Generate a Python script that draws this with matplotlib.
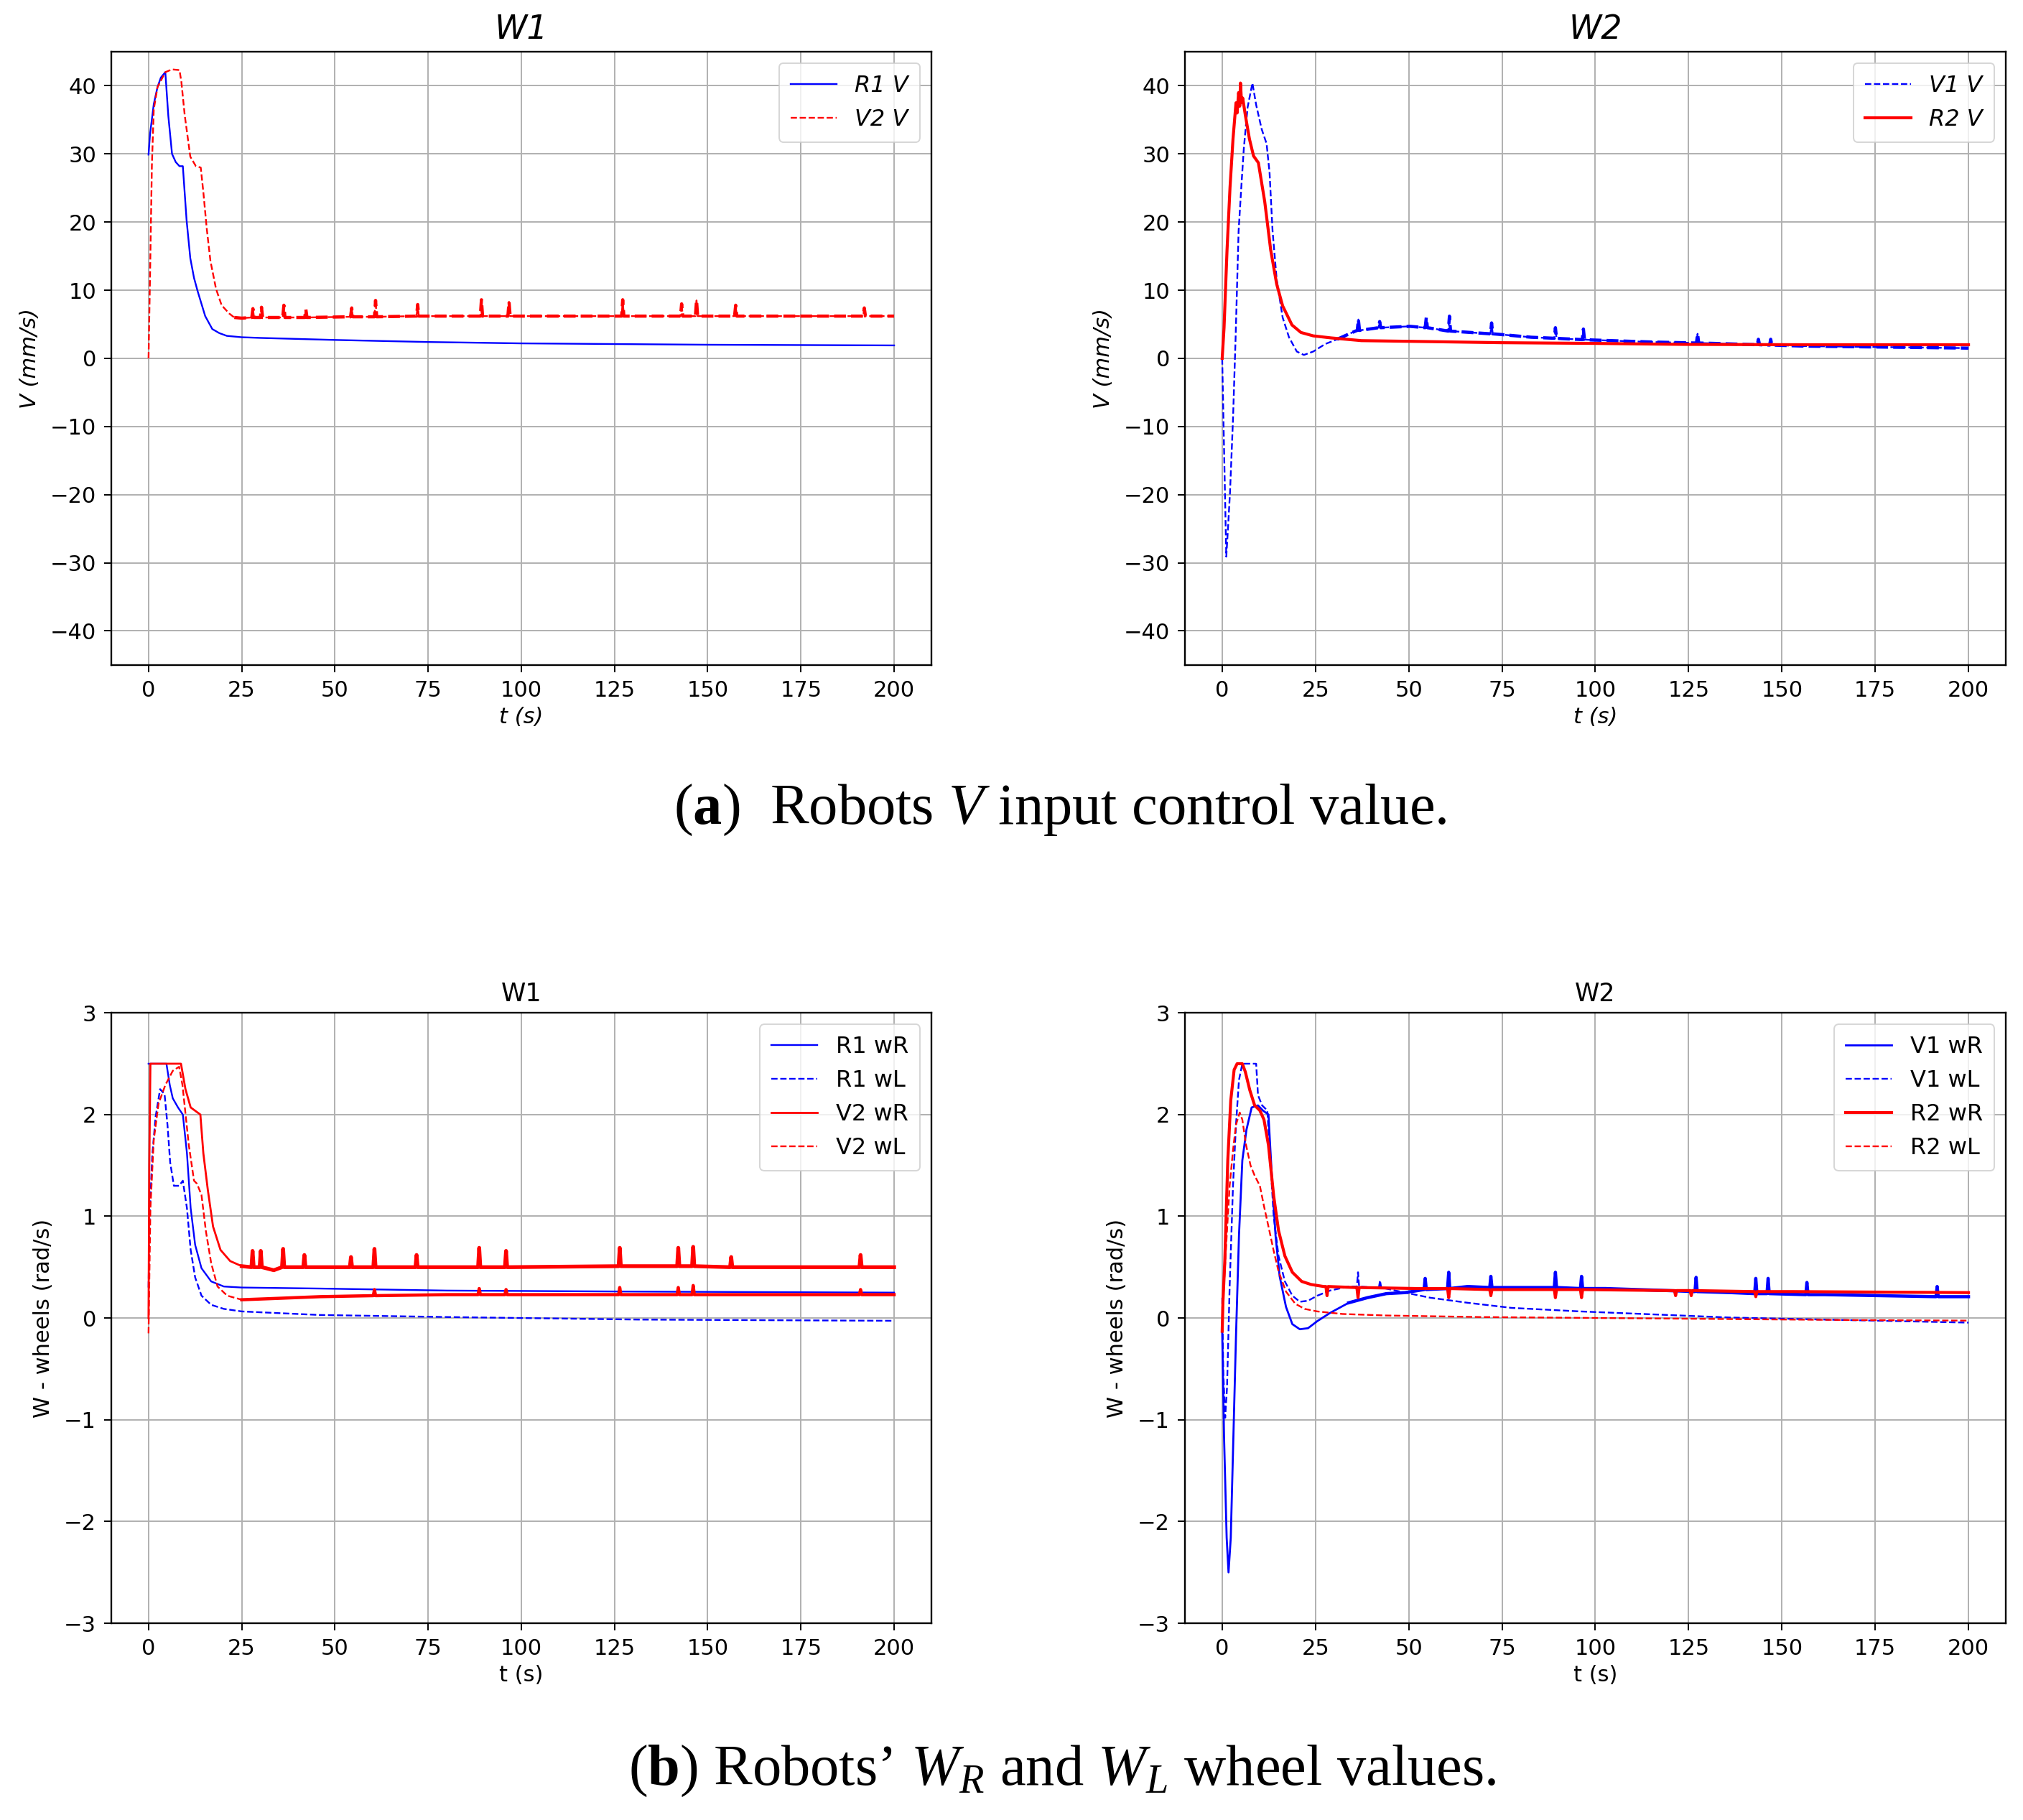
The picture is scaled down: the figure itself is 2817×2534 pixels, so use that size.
import matplotlib
matplotlib.use("Agg")
import matplotlib.pyplot as plt
import numpy as np

# ---- data ----
# (a) W1: V input
r1v_t = [0, 0.4, 1.4, 2.4, 3.3, 4.5, 5.3, 6.3, 7.3, 8.3, 9.2, 10.2, 11.2, 12.2, 13.2, 15.2,
         17.1, 19, 21, 25, 30, 50, 75, 100, 125, 150, 175, 200]
r1v_v = [29.9, 32.9, 37.3, 39.8, 41.2, 42.0, 35.6, 30.0, 28.8, 28.2, 28.2, 20.3, 14.7, 11.8, 9.8, 6.2,
         4.3, 3.7, 3.3, 3.1, 3.0, 2.7, 2.4, 2.2, 2.1, 2.0, 1.95, 1.9]

v2v_t = [0, 0.4, 0.9, 1.4, 2.4, 4.5, 6.3, 8.3, 8.8, 9.7, 11.2, 12.7, 14.0, 14.7, 15.6, 16.6, 18.1,
         19.6, 21.6, 23, 25, 27.7, 28, 28.3, 30, 30.3, 30.6, 36, 36.3, 36.6, 41.9, 42.2, 42.5,
         54.2, 54.5, 54.8, 60.6, 60.9, 61.2, 71.9, 72.2, 72.5, 89, 89.3, 89.6, 96.4, 96.7, 97,
         126.9, 127.2, 127.5, 142.7, 143, 143.3, 146.7, 147, 147.3, 157.2, 157.5, 157.8,
         191.7, 192, 192.3, 200]
v2v_v = [0, 12, 28.4, 36.5, 39.8, 42.0, 42.4, 42.3, 40.6, 35.7, 29.6, 28.2, 28.0, 24.4, 19.1, 14.3, 10.2,
         7.8, 6.6, 6.0, 5.9, 6.0, 7.3, 6.0, 6.0, 7.5, 6.0, 6.0, 7.8, 6.0, 6.0, 7.2, 6.0,
         6.1, 7.4, 6.1, 6.1, 8.5, 6.1, 6.2, 7.9, 6.2, 6.2, 8.6, 6.2, 6.2, 8.3, 6.2,
         6.2, 8.6, 6.2, 6.2, 8.0, 6.2, 6.2, 8.5, 6.2, 6.2, 7.8, 6.2,
         6.2, 7.4, 6.2, 6.2]

# (a) W2: V input
v1v_t = [0, 1.1, 1.6, 2.1, 2.9, 3.6, 4.4, 5.2, 5.8, 6.8, 8.1, 9.1, 10.6, 11.9, 12.7, 13.5, 14.6,
         16.2, 17.9, 20, 21.9, 24.4, 27.6, 30.8, 35.7, 36.2, 36.5, 36.8, 41.9, 42.2, 42.5, 50.3,
         54.4, 54.7, 55.0, 58.4, 60.6, 60.9, 61.2, 66.6, 71.9, 72.2, 72.5, 74.7, 82.8, 89.0, 89.3,
         89.6, 90.9, 96.5, 96.8, 97.1, 99, 115, 127.1, 127.4, 127.7, 131.5, 143.4, 143.7, 144.0,
         146.7, 147, 147.3, 155.8, 200]
v1v_v = [0, -29.1, -24.5, -19.6, -8.9, 3.1, 18.7, 25.8, 30.8, 36.8, 40.4, 37.2, 33.6, 31.5, 27.2, 18.7, 11.6,
         6.0, 3.1, 1.0, 0.5, 1.0, 2.1, 2.8, 4.0, 4.1, 5.7, 4.1, 4.5, 5.4, 4.5, 4.7,
         4.5, 6.0, 4.5, 4.2, 4.0, 6.2, 4.0, 3.8, 3.6, 5.2, 3.6, 3.5, 3.1, 2.95, 4.5,
         2.95, 2.9, 2.75, 4.3, 2.75, 2.7, 2.4, 2.25, 3.6, 2.25, 2.2, 2.0, 2.8, 2.0,
         1.95, 2.8, 1.95, 1.8, 1.5]

r2v_t = [0, 0.5, 1.3, 2.1, 2.9, 3.7, 4.0, 4.4, 4.7, 4.9, 5.2, 5.5, 6.2, 7.3, 8.4, 9.7, 11.4, 13,
         14.6, 16.2, 18.7, 21.1, 24.4, 29.2, 37.3, 50.3, 74.7, 99, 123.4, 155.8, 200]
r2v_v = [0, 4.5, 15.9, 25.1, 32.2, 37.5, 36.0, 39.0, 37.0, 40.4, 37.5, 38.2, 35.7, 32.2, 29.7, 28.7, 23.0, 15.9,
         10.9, 7.7, 4.9, 3.8, 3.3, 3.0, 2.6, 2.5, 2.3, 2.2, 2.05, 2.0, 2.0]

# (b) W1: wheel speeds
r1wr_t = [0, 4.8, 5.7, 6.5, 7.9, 9.2, 10.3, 11.3, 12.5, 14.2, 16.8, 20.2, 25, 46, 80, 131.5, 200]
r1wr_w = [2.5, 2.5, 2.29, 2.16, 2.07, 2.0, 1.62, 1.08, 0.72, 0.49, 0.36, 0.31, 0.30, 0.29, 0.27, 0.26, 0.25]

r1wl_t = [0, 0.3, 1.0, 1.9, 3.1, 4.3, 5.1, 5.8, 6.8, 8.2, 9.2, 10.3, 11.3, 12.5, 14.2, 16.8, 20.2,
          25, 46, 80, 131.5, 200]
r1wl_w = [0.3, 1.0, 1.6, 1.98, 2.25, 2.2, 1.89, 1.53, 1.3, 1.3, 1.35, 1.08, 0.67, 0.4, 0.22, 0.13, 0.09,
          0.065, 0.03, 0.01, -0.015, -0.027]

v2wr_t = [0, 0.2, 0.5, 8.7, 9.9, 11.3, 13.9, 14.7, 15.9, 17.3, 19.3, 21.9, 25, 27.6, 27.9, 28.2,
          29.8, 30.1, 30.4, 33.6, 35.8, 36.1, 36.4, 41.5, 41.8, 42.1, 54, 54.3, 54.6, 60.3, 60.6, 60.9,
          71.6, 71.9, 72.2, 88.4, 88.7, 89, 95.6, 95.9, 96.2, 126.1, 126.4, 126.7, 141.8, 142.1, 142.4,
          145.8, 146.1, 146.4, 156, 156.3, 156.6, 190.7, 191, 191.3, 200]
v2wr_w = [0, 1.5, 2.5, 2.5, 2.25, 2.07, 2.0, 1.62, 1.26, 0.9, 0.67, 0.56, 0.51, 0.5, 0.66, 0.5,
          0.5, 0.66, 0.5, 0.47, 0.5, 0.68, 0.5, 0.5, 0.62, 0.5, 0.5, 0.6, 0.5, 0.5, 0.68, 0.5,
          0.5, 0.62, 0.5, 0.5, 0.69, 0.5, 0.5, 0.66, 0.5, 0.51, 0.69, 0.51, 0.51, 0.69, 0.51,
          0.51, 0.70, 0.51, 0.5, 0.6, 0.5, 0.5, 0.62, 0.5, 0.5]

v2wl_t = [0, 0.5, 1.4, 2.7, 4.5, 6.5, 8.2, 9.1, 10.8, 12.2, 13, 14.2, 15.4, 16.8, 18.5, 21.1, 25,
          32.2, 46, 60.3, 60.6, 60.9, 80, 88.4, 88.7, 89, 95.6, 95.9, 96.2, 126.1, 126.4, 126.7,
          131.5, 141.8, 142.1, 142.4, 145.8, 146.1, 146.4, 190.7, 191, 191.3, 200]
v2wl_w = [-0.15, 1.08, 1.75, 2.11, 2.29, 2.43, 2.47, 2.29, 1.7, 1.35, 1.32, 1.21, 0.85, 0.54, 0.31, 0.22, 0.18,
          0.19, 0.21, 0.22, 0.28, 0.22, 0.23, 0.23, 0.29, 0.23, 0.23, 0.28, 0.23, 0.23, 0.30, 0.23,
          0.23, 0.23, 0.30, 0.23, 0.23, 0.32, 0.23, 0.23, 0.28, 0.23, 0.23]

# (b) W2: wheel speeds
v1wr_t = [0, 0.5, 1.2, 1.7, 2.3, 3.0, 3.7, 4.5, 5.4, 6.5, 7.9, 9.6, 10.9, 12.4, 13.3, 14.3, 15.4,
          17.1, 18.8, 20.8, 23, 25.5, 28.9, 33.9, 38.9, 44, 49, 54.1, 54.4, 54.7, 60.4, 60.7, 61,
          65.8, 71.7, 72, 72.3, 85.9, 89, 89.3, 89.6, 96, 96.3, 96.6, 102.7, 119.5, 126.7, 127, 127.3,
          136.2, 142.7, 143, 143.3, 146, 146.3, 146.6, 156.4, 156.7, 157, 161.4, 191.3, 191.6, 191.9, 200]
v1wr_w = [-0.13, -1.17, -2.16, -2.5, -2.16, -1.17, -0.18, 0.81, 1.55, 1.85, 2.07, 2.09, 2.04, 2.0, 1.4, 0.81, 0.41,
          0.11, -0.06, -0.11, -0.1, -0.03, 0.05, 0.15, 0.2, 0.24, 0.25, 0.28, 0.39, 0.28, 0.29, 0.45, 0.29,
          0.31, 0.3, 0.41, 0.3, 0.3, 0.3, 0.45, 0.3, 0.29, 0.41, 0.29, 0.29, 0.27, 0.26, 0.4, 0.26,
          0.25, 0.24, 0.39, 0.24, 0.24, 0.39, 0.24, 0.23, 0.35, 0.23, 0.23, 0.21, 0.31, 0.21, 0.21]

v1wl_t = [0, 0.3, 0.8, 1.3, 2.0, 2.9, 3.7, 4.5, 5.4, 9.1, 9.6, 10.7, 12.1, 12.9, 13.8, 15.1, 16.8,
          18.8, 20.8, 23, 25.5, 28.9, 33.9, 36.1, 36.4, 36.7, 40.6, 42, 42.3, 42.6, 49, 55.7, 65.8,
          77.5, 96, 119.5, 136.2, 161.4, 200]
v1wl_w = [0.2, -0.53, -0.98, -0.68, 0.31, 1.3, 1.9, 2.34, 2.5, 2.5, 2.19, 2.09, 2.04, 1.55, 1.0, 0.61, 0.36,
          0.22, 0.16, 0.17, 0.22, 0.27, 0.31, 0.31, 0.45, 0.31, 0.3, 0.3, 0.37, 0.3, 0.25, 0.2, 0.15,
          0.1, 0.065, 0.03, 0.005, -0.015, -0.045]

r2wr_t = [0, 0.2, 0.7, 1.5, 2.3, 3.2, 4.0, 5.4, 6.2, 7.4, 8.7, 10.1, 11.2, 12.4, 13.8, 15.1, 16.8,
          18.8, 21.3, 23.8, 27.2, 27.8, 28.1, 28.4, 35.6, 36.1, 36.4, 36.7, 52.3, 60.4, 60.7, 61,
          71.7, 72, 72.3, 85.9, 89, 89.3, 89.6, 96, 96.3, 96.6, 119.5, 121.2, 121.5, 121.8,
          125.4, 125.7, 126, 142.7, 143, 143.3, 153, 200]
r2wr_w = [-0.13, 0.16, 0.56, 1.55, 2.14, 2.44, 2.5, 2.5, 2.42, 2.24, 2.09, 2.04, 1.95, 1.7, 1.2, 0.86, 0.61,
          0.45, 0.36, 0.33, 0.31, 0.31, 0.22, 0.31, 0.3, 0.3, 0.2, 0.3, 0.29, 0.29, 0.2, 0.29,
          0.28, 0.22, 0.28, 0.28, 0.28, 0.2, 0.28, 0.28, 0.2, 0.28, 0.27, 0.27, 0.22, 0.27,
          0.27, 0.22, 0.27, 0.26, 0.21, 0.26, 0.26, 0.25]

r2wl_t = [0, 0.3, 1.2, 2.0, 2.9, 3.7, 4.7, 5.4, 6.4, 7.6, 8.7, 10.1, 11.2, 12.4, 13.8, 15.1, 17.1,
          19.6, 22.1, 25.5, 32.2, 44, 69, 102.7, 136, 169.8, 200]
r2wl_w = [-0.13, 0.21, 0.8, 1.3, 1.65, 1.9, 2.02, 1.95, 1.7, 1.5, 1.4, 1.3, 1.1, 0.9, 0.66, 0.46, 0.26,
          0.14, 0.09, 0.065, 0.04, 0.025, 0.01, 0.0, -0.01, -0.02, -0.025]

# ---- styling ----
plt.rcParams['font.family'] = 'DejaVu Sans'
plt.rcParams['mathtext.fontset'] = 'custom'
plt.rcParams['mathtext.rm'] = 'Liberation Serif'
plt.rcParams['mathtext.it'] = 'Liberation Serif:italic'
plt.rcParams['mathtext.bf'] = 'Liberation Serif:bold'

FS = 22
LW = 1.7
NOISY = 3.2


def style_axes(ax, ylim, yticks, title, ylabel, italic):
    st = 'italic' if italic else 'normal'
    ax.set_xlim(-10, 210)
    ax.set_xticks([0, 25, 50, 75, 100, 125, 150, 175, 200])
    ax.set_ylim(*ylim)
    ax.set_yticks(yticks)
    ax.grid(True, color='#b0b0b0', linewidth=1.4)
    ax.set_axisbelow(True)
    ax.tick_params(labelsize=FS, length=7, width=1.4, pad=8)
    for s in ax.spines.values():
        s.set_linewidth(1.7)
    if italic:
        ax.set_title(title, fontsize=33, style='italic', pad=13)
    else:
        ax.set_title(title, fontsize=25, pad=12)
    ax.set_xlabel('t (s)', fontsize=FS, style=st, labelpad=6)
    ax.set_ylabel(ylabel, fontsize=FS, style=st, labelpad=10)
    leg = ax.legend(loc='upper right', prop={'style': st, 'size': FS + 1},
                    framealpha=0.8, borderpad=0.5)
    leg.get_frame().set_linewidth(1.4)


def tail(t, y, start=22):
    t = np.asarray(t)
    y = np.asarray(y)
    m = t >= start
    return t[m], y[m]


fig = plt.figure(figsize=(28.17, 25.34), dpi=100)

ax1 = fig.add_axes([0.0550, 0.6346, 0.4054, 0.3370])
ax1.plot(r1v_t, r1v_v, color='blue', lw=LW, label='R1 V')
ax1.plot(v2v_t, v2v_v, color='red', lw=LW, ls='--', label='V2 V')
ax1.plot(*tail(v2v_t, v2v_v), color='red', lw=NOISY, ls='--')
style_axes(ax1, (-45, 45), np.arange(-40, 41, 10), 'W1', 'V (mm/s)', True)

ax2 = fig.add_axes([0.5857, 0.6346, 0.4058, 0.3370])
ax2.plot(v1v_t, v1v_v, color='blue', lw=LW, ls='--', label='V1 V')
ax2.plot(*tail(v1v_t, v1v_v, 30), color='blue', lw=NOISY, ls='--')
ax2.plot(r2v_t, r2v_v, color='red', lw=3.0, label='R2 V')
style_axes(ax2, (-45, 45), np.arange(-40, 41, 10), 'W2', 'V (mm/s)', True)

ax3 = fig.add_axes([0.0550, 0.1081, 0.4054, 0.3354])
ax3.plot(r1wr_t, r1wr_w, color='blue', lw=LW, label='R1 wR')
ax3.plot(r1wl_t, r1wl_w, color='blue', lw=LW, ls='--', label='R1 wL')
ax3.plot(v2wr_t, v2wr_w, color='red', lw=LW + 0.3, label='V2 wR')
ax3.plot(*tail(v2wr_t, v2wr_w, 25), color='red', lw=NOISY + 0.6)
ax3.plot(v2wl_t, v2wl_w, color='red', lw=LW, ls='--', label='V2 wL')
ax3.plot(*tail(v2wl_t, v2wl_w, 25), color='red', lw=NOISY)
style_axes(ax3, (-3, 3), np.arange(-3, 4, 1), 'W1', 'W - wheels (rad/s)', False)

ax4 = fig.add_axes([0.5857, 0.1081, 0.4058, 0.3354])
ax4.plot(v1wr_t, v1wr_w, color='blue', lw=LW + 0.3, label='V1 wR')
ax4.plot(*tail(v1wr_t, v1wr_w, 30), color='blue', lw=NOISY)
ax4.plot(v1wl_t, v1wl_w, color='blue', lw=LW, ls='--', label='V1 wL')
ax4.plot(r2wr_t, r2wr_w, color='red', lw=3.0, label='R2 wR')
ax4.plot(r2wl_t, r2wl_w, color='red', lw=LW, ls='--', label='R2 wL')
style_axes(ax4, (-3, 3), np.arange(-3, 4, 1), 'W2', 'W - wheels (rad/s)', False)

fig.text(0.524, 0.555, r'($\mathbf{a}$)  Robots $V$ input control value.',
         ha='center', va='center', fontsize=58, family='Liberation Serif')
fig.text(0.525, 0.027, '($\\mathbf{b}$) Robots\u2019 $W_R$ and $W_L$ wheel values.',
         ha='center', va='center', fontsize=58, family='Liberation Serif')

fig.savefig('out.png', dpi=100, facecolor='white')
